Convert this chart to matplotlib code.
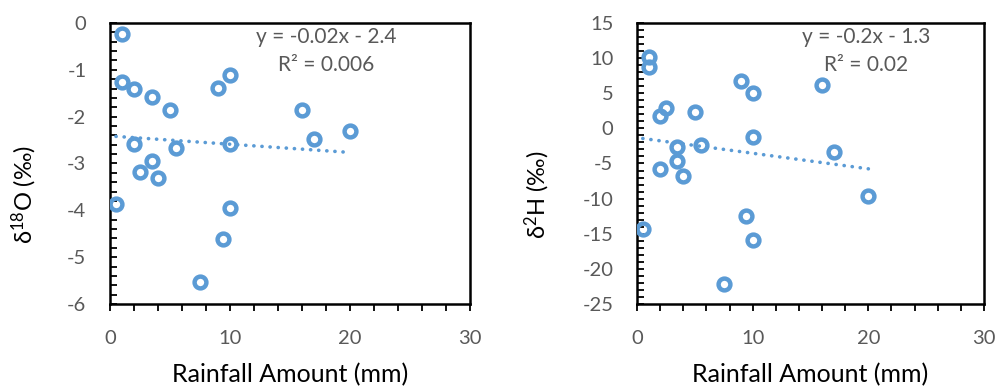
import numpy as np
import matplotlib
matplotlib.use('Agg')
import matplotlib.pyplot as plt
from matplotlib.ticker import MultipleLocator

plt.rcParams['font.family'] = ['Lato', 'DejaVu Sans']
plt.rcParams['mathtext.fontset'] = 'custom'
plt.rcParams['mathtext.rm'] = 'Lato'
plt.rcParams['mathtext.default'] = 'rm'
plt.rcParams['axes.unicode_minus'] = False

# rainfall amount (mm) and isotope values for each event
rain_o = [1, 1, 2, 3.5, 5, 9, 10, 16, 17, 20, 2, 5.5, 10, 3.5, 2.5, 4, 0.5, 10, 9.4, 7.5]
d18o = [-0.23, -1.27, -1.40, -1.57, -1.86, -1.39, -1.12, -1.86, -2.47, -2.31,
        -2.58, -2.67, -2.58, -2.94, -3.18, -3.31, -3.87, -3.94, -4.62, -5.53]

rain_h = [1, 1, 9, 10, 16, 2.5, 2, 5, 10, 3.5, 5.5, 17, 3.5, 2, 4, 20, 9.4, 0.5, 10, 7.5]
d2h = [10.2, 8.7, 6.8, 5.1, 6.2, 2.9, 1.8, 2.3, -1.2, -2.7, -2.4, -3.3, -4.7, -5.8,
       -6.8, -9.6, -12.5, -14.3, -15.9, -22.2]

blue = '#5B9BD5'
grey = '#595959'


def panel(ax, x, y, ylim, ymajor, yminor, ylabel, eq_x, label_x):
    x = np.array(x)
    y = np.array(y)
    ax.plot(x, y, 'o', mfc='none', mec=blue, ms=8.5, mew=3.2, zorder=3)

    # linear trendline over the data range
    slope, icpt = np.polyfit(x, y, 1)
    r2 = np.corrcoef(x, y)[0, 1] ** 2
    xs = np.array([x.min(), x.max()])
    ax.plot(xs, slope * xs + icpt, color=blue, lw=2.6,
            ls=(0, (0.05, 2.2)), dash_capstyle='round', zorder=2)
    sign = '-' if icpt < 0 else '+'
    ax.text(eq_x, 0.95, f'y = {slope:.1g}x {sign} {abs(icpt):.2g}',
            transform=ax.transAxes, ha='center', va='center', color=grey, fontsize=15)
    ax.text(eq_x, 0.85, f'R² = {r2:.1g}',
            transform=ax.transAxes, ha='center', va='center', color=grey, fontsize=15)

    ax.set_xlim(0, 30)
    ax.set_ylim(*ylim)
    ax.xaxis.set_major_locator(MultipleLocator(10))
    ax.xaxis.set_minor_locator(MultipleLocator(2))
    ax.yaxis.set_major_locator(MultipleLocator(ymajor))
    ax.yaxis.set_minor_locator(MultipleLocator(yminor))
    ax.tick_params(axis='x', which='both', direction='out', length=5, width=1.3,
                   colors='black', labelcolor=grey, labelsize=14.5, pad=14)
    ax.tick_params(axis='y', which='both', direction='in', length=5, width=1.3,
                   colors='black', labelcolor=grey, labelsize=14.5, pad=17)
    for s in ax.spines.values():
        s.set_linewidth(1.8)
        s.set_color('black')

    ax.set_xlabel('Rainfall Amount (mm)', fontsize=18, labelpad=11)
    ax.set_ylabel(ylabel, fontsize=17)
    ax.yaxis.set_label_coords(label_x, 0.388)


fig = plt.figure(figsize=(10, 3.89), dpi=100)
ax1 = fig.add_axes([0.110, 0.2185, 0.360, 0.7224])
ax2 = fig.add_axes([0.637, 0.2185, 0.347, 0.7224])

panel(ax1, rain_o, d18o, (-6, 0), 1, 0.2, r'δ$^{18}$O (‰)', 0.60, -0.198)
panel(ax2, rain_h, d2h, (-25, 15), 5, 1, r'δ$^{2}$H (‰)', 0.66, -0.245)

fig.savefig('out.png', dpi=100)
